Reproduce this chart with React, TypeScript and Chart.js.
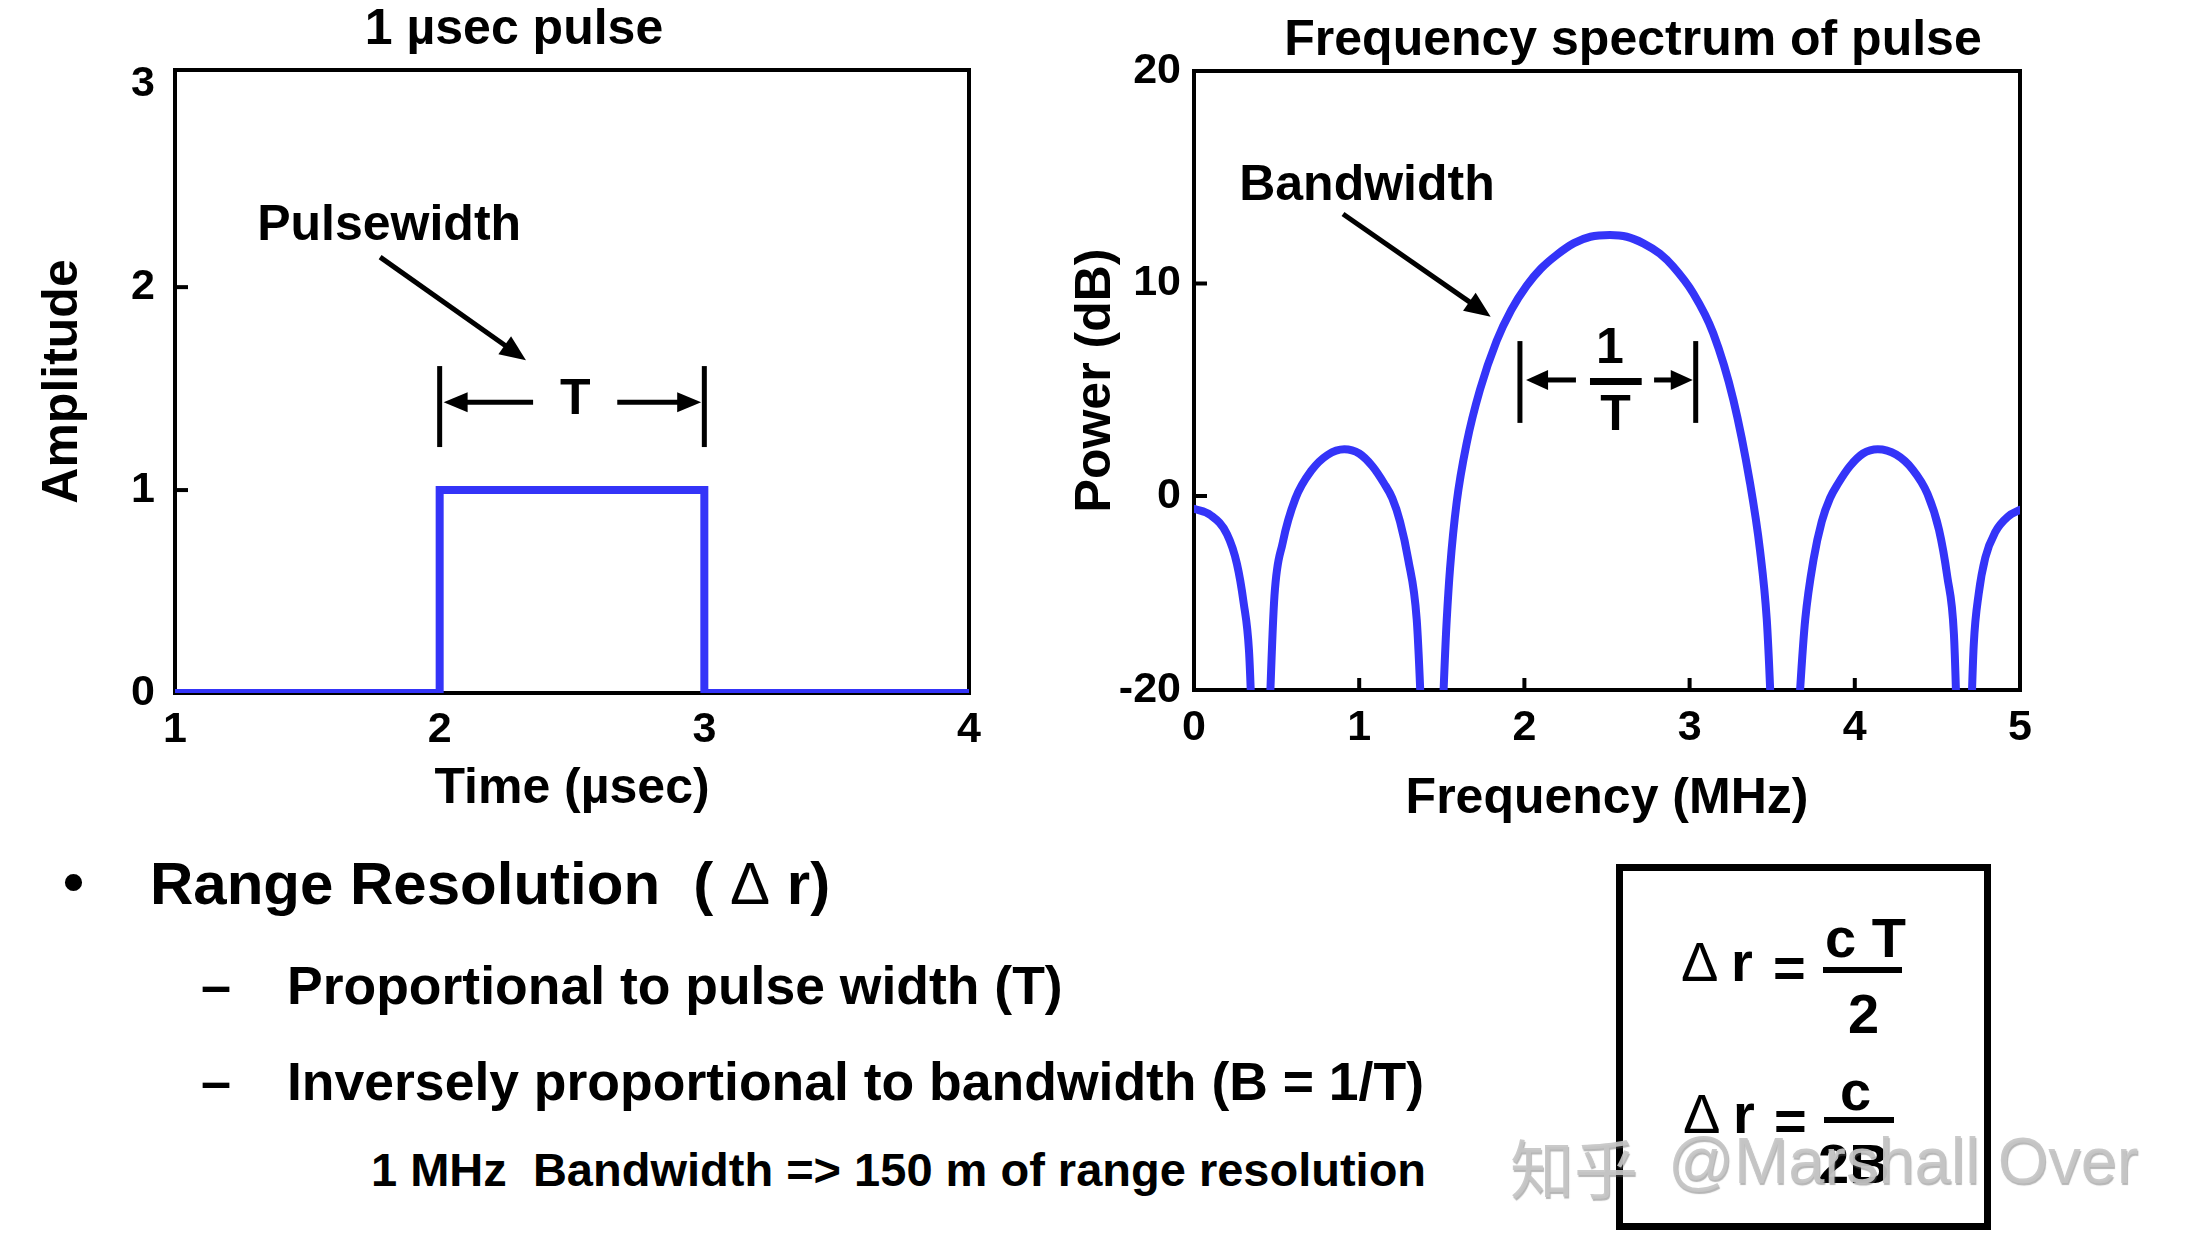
import React, { useEffect, useRef } from "react";
import { Chart, registerables } from "chart.js";

Chart.register(...registerables);

const FONT = '"Liberation Sans", Arial, Helvetica, sans-serif';
const BLUE = "#3434F8";
const BLACK = "#000000";

// ---------------- Left chart data: 1 µsec pulse ----------------
const PULSE_TITLE = "1 µsec pulse";
const TIME_LABEL = "Time (µsec)";
const AMPLITUDE_LABEL = "Amplitude";
const TIME_US = [1, 2, 2, 3, 3, 4];
const AMPLITUDE = [0, 0, 1, 1, 0, 0];
const TIME_TICKS = [1, 2, 3, 4];
const AMPLITUDE_TICKS = [0, 1, 2, 3];
const AMPLITUDE_AXIS_MAX = 3.07;

// ---------------- Right chart data: spectrum ----------------
const SPECTRUM_TITLE = "Frequency spectrum of pulse";
const FREQ_LABEL = "Frequency (MHz)";
const POWER_LABEL = "Power (dB)";
const FREQ_MHZ = [
  0, 0.1, 0.2, 0.26, 0.3, 0.333, 0.4,
  0.487, 0.537, 0.614, 0.711, 0.808, 0.91, 1.0, 1.08, 1.15, 1.2, 1.247, 1.297, 1.348, 1.44,
  1.53, 1.55, 1.59, 1.651, 1.731, 1.832, 1.92, 2.014, 2.1, 2.196, 2.3, 2.4, 2.518,
  2.62, 2.72, 2.82, 2.901, 3.022, 3.143, 3.265, 3.366, 3.426, 3.467, 3.56,
  3.7, 3.75, 3.8, 3.85, 3.9, 3.97, 4.05, 4.139, 4.25, 4.35, 4.44, 4.51, 4.56, 4.6, 4.66,
  4.72, 4.75, 4.79, 4.85, 4.93, 5.0,
];
const POWER_DB = [
  -0.6, -0.9, -1.8, -3.2, -5.0, -7.3, -20,
  -4.7, -2.2, -0.12, 1.2, 1.93, 2.2, 2.0, 1.4, 0.6, -0.1, -1.2, -3.0, -5.8, -20,
  -5.8, -3.4, -0.3, 2.5, 5.0, 7.3, 8.75, 9.9, 10.7, 11.35, 11.9, 12.2, 12.28,
  12.2, 11.89, 11.4, 10.79, 9.54, 7.66, 4.52, 0.6, -2.54, -5.8, -20,
  -5.8, -3.0, -1.2, -0.1, 0.6, 1.4, 2.0, 2.2, 1.95, 1.25, 0.1, -1.6, -3.8, -6.5, -20,
  -7.0, -4.6, -2.9, -1.7, -0.95, -0.65,
];
const FREQ_TICKS = [0, 1, 2, 3, 4, 5];
const POWER_TICKS = [0, 10, 20];
const POWER_FLOOR_LABEL = "-20"; // label printed at the clipped floor of the plot
const POWER_AXIS_MIN = -9.13; // where that floor sits on the drawn dB scale

// ---------------- Slide text ----------------
const BULLET_HEAD = "Range Resolution  ( ";
const BULLET_DELTA = "\u0394";
const BULLET_TAIL = " r)";
const SUB_1 = "Proportional to pulse width (T)";
const SUB_2 = "Inversely proportional to bandwidth (B = 1/T)";
const NOTE = "1 MHz  Bandwidth => 150 m of range resolution";
const WATERMARK_CJK = "知乎";
const WATERMARK_LATIN = "@Marshall Over";

type Annot =
  | { kind: "text"; text: string; x: number; y: number; size: number }
  | { kind: "line"; x1: number; y1: number; x2: number; y2: number; lw: number }
  | { kind: "arrow"; x1: number; y1: number; x2: number; y2: number; lw: number; head: number; half: number };

const PULSE_ANNOTS: Annot[] = [
  { kind: "text", text: "Pulsewidth", x: 1.809, y: 2.3, size: 50 },
  { kind: "arrow", x1: 1.775, y1: 2.148, x2: 2.326, y2: 1.64, lw: 5, head: 26, half: 11 },
  { kind: "line", x1: 2, y1: 1.212, x2: 2, y2: 1.611, lw: 5 },
  { kind: "line", x1: 3, y1: 1.212, x2: 3, y2: 1.611, lw: 5 },
  { kind: "arrow", x1: 2.353, y1: 1.433, x2: 2.015, y2: 1.433, lw: 5, head: 24, half: 10 },
  { kind: "arrow", x1: 2.671, y1: 1.433, x2: 2.988, y2: 1.433, lw: 5, head: 24, half: 10 },
  { kind: "text", text: "T", x: 2.512, y: 1.443, size: 50 },
];

const SPECTRUM_ANNOTS: Annot[] = [
  { kind: "text", text: "Bandwidth", x: 1.047, y: 14.59, size: 50 },
  { kind: "arrow", x1: 0.902, y1: 13.27, x2: 1.796, y2: 8.44, lw: 5, head: 26, half: 11 },
  { kind: "line", x1: 1.973, y1: 3.44, x2: 1.973, y2: 7.29, lw: 5 },
  { kind: "line", x1: 3.037, y1: 3.44, x2: 3.037, y2: 7.29, lw: 5 },
  { kind: "arrow", x1: 2.312, y1: 5.46, x2: 2.01, y2: 5.46, lw: 5, head: 22, half: 10 },
  { kind: "arrow", x1: 2.785, y1: 5.46, x2: 3.019, y2: 5.46, lw: 5, head: 22, half: 10 },
  { kind: "text", text: "1", x: 2.518, y: 6.93, size: 50 },
  { kind: "line", x1: 2.397, y1: 5.39, x2: 2.71, y2: 5.39, lw: 7 },
  { kind: "text", text: "T", x: 2.551, y: 3.74, size: 50 },
];

function drawArrow(ctx: CanvasRenderingContext2D, x1: number, y1: number, x2: number, y2: number, lw: number, head: number, half: number) {
  const ang = Math.atan2(y2 - y1, x2 - x1);
  const bx = x2 - head * Math.cos(ang);
  const by = y2 - head * Math.sin(ang);
  ctx.lineWidth = lw;
  ctx.lineCap = "butt";
  ctx.beginPath();
  ctx.moveTo(x1, y1);
  ctx.lineTo(bx + Math.cos(ang), by + Math.sin(ang));
  ctx.stroke();
  ctx.beginPath();
  ctx.moveTo(x2, y2);
  ctx.lineTo(bx + half * Math.sin(ang), by - half * Math.cos(ang));
  ctx.lineTo(bx - half * Math.sin(ang), by + half * Math.cos(ang));
  ctx.closePath();
  ctx.fill();
}

function innerTicks(list: number[]) {
  return list.slice(1, list.length - 1);
}

function makeDecor(opts: {
  id: string;
  title: string;
  titleX: number;
  titleY: number;
  annots: Annot[];
  yTicks: number[];
  xTicks: number[];
  yTickLen: number;
  xTickLen: number;
}) {
  return {
    id: opts.id,
    beforeDatasetsDraw(chart: any) {
      const { ctx, chartArea: a, scales } = chart;
      ctx.save();
      ctx.strokeStyle = BLACK;
      ctx.lineWidth = 4;
      ctx.strokeRect(a.left, a.top, a.right - a.left, a.bottom - a.top);
      const ys = scales.y;
      for (const v of opts.yTicks) {
        const py = ys.getPixelForValue(v);
        ctx.beginPath();
        ctx.moveTo(a.left, py);
        ctx.lineTo(a.left + opts.yTickLen, py);
        ctx.stroke();
      }
      const xs = scales.x;
      for (const v of opts.xTicks) {
        const px = xs.getPixelForValue(v);
        ctx.beginPath();
        ctx.moveTo(px, a.bottom);
        ctx.lineTo(px, a.bottom - opts.xTickLen);
        ctx.stroke();
      }
      ctx.restore();
    },
    afterDraw(chart: any) {
      const { ctx, scales } = chart;
      const xs = scales.x;
      const ys = scales.y;
      ctx.save();
      ctx.fillStyle = BLACK;
      ctx.strokeStyle = BLACK;
      ctx.textAlign = "center";
      ctx.textBaseline = "middle";
      ctx.font = `bold 50px ${FONT}`;
      ctx.fillText(opts.title, opts.titleX, opts.titleY);
      for (const an of opts.annots) {
        if (an.kind === "text") {
          ctx.font = `bold ${an.size}px ${FONT}`;
          ctx.fillText(an.text, xs.getPixelForValue(an.x), ys.getPixelForValue(an.y));
        } else if (an.kind === "line") {
          ctx.lineWidth = an.lw;
          ctx.lineCap = "butt";
          ctx.beginPath();
          ctx.moveTo(xs.getPixelForValue(an.x1), ys.getPixelForValue(an.y1));
          ctx.lineTo(xs.getPixelForValue(an.x2), ys.getPixelForValue(an.y2));
          ctx.stroke();
        } else {
          drawArrow(
            ctx,
            xs.getPixelForValue(an.x1),
            ys.getPixelForValue(an.y1),
            xs.getPixelForValue(an.x2),
            ys.getPixelForValue(an.y2),
            an.lw,
            an.head,
            an.half
          );
        }
      }
      ctx.restore();
    },
  };
}

const tickFont = { family: FONT, size: 43, weight: "bold" as const };
const titleFont = { family: FONT, size: 50, weight: "bold" as const };

function makePulseChart(canvas: HTMLCanvasElement) {
  return new Chart(canvas, {
    type: "line",
    data: {
      datasets: [
        {
          data: TIME_US.map((t, i) => ({ x: t, y: AMPLITUDE[i] })),
          borderColor: BLUE,
          borderWidth: 8,
          pointRadius: 0,
          tension: 0,
          fill: false,
          borderJoinStyle: "miter",
          borderCapStyle: "butt",
        },
      ],
    },
    options: {
      responsive: false,
      animation: false,
      events: [],
      layout: { padding: { top: 70, right: 61, left: 0, bottom: 0 } },
      plugins: { legend: { display: false }, tooltip: { enabled: false }, title: { display: false } },
      scales: {
        x: {
          type: "linear",
          min: 1,
          max: 4,
          afterBuildTicks: (s: any) => {
            s.ticks = TIME_TICKS.map((v) => ({ value: v }));
          },
          afterFit: (s: any) => {
            s.height = 167;
          },
          grid: { display: false, drawTicks: false },
          border: { display: false },
          ticks: { color: BLACK, font: tickFont, padding: 11, maxRotation: 0, autoSkip: false },
          title: { display: true, text: TIME_LABEL, color: BLACK, font: titleFont, padding: { top: 0, bottom: 41 } },
        },
        y: {
          type: "linear",
          min: 0,
          max: AMPLITUDE_AXIS_MAX,
          afterBuildTicks: (s: any) => {
            s.ticks = AMPLITUDE_TICKS.map((v) => ({ value: v }));
          },
          afterFit: (s: any) => {
            s.width = 175;
          },
          grid: { display: false, drawTicks: false },
          border: { display: false },
          ticks: { color: BLACK, font: tickFont, padding: 20, autoSkip: false },
          title: { display: true, text: AMPLITUDE_LABEL, color: BLACK, font: titleFont, padding: { top: 33, bottom: 0 } },
        },
      },
    },
    plugins: [
      makeDecor({
        id: "pulseDecor",
        title: PULSE_TITLE,
        titleX: 514,
        titleY: 30,
        annots: PULSE_ANNOTS,
        yTicks: innerTicks(AMPLITUDE_TICKS),
        xTicks: [],
        yTickLen: 13,
        xTickLen: 0,
      }),
    ],
  } as any);
}

function makeSpectrumChart(canvas: HTMLCanvasElement) {
  return new Chart(canvas, {
    type: "line",
    data: {
      datasets: [
        {
          data: FREQ_MHZ.map((f, i) => ({ x: f, y: POWER_DB[i] })),
          borderColor: BLUE,
          borderWidth: 8,
          pointRadius: 0,
          cubicInterpolationMode: "monotone",
          fill: false,
          borderCapStyle: "round",
          borderJoinStyle: "round",
        },
      ],
    },
    options: {
      responsive: false,
      animation: false,
      events: [],
      layout: { padding: { top: 71, right: 170, left: 0, bottom: 0 } },
      plugins: { legend: { display: false }, tooltip: { enabled: false }, title: { display: false } },
      scales: {
        x: {
          type: "linear",
          min: 0,
          max: 5,
          afterBuildTicks: (s: any) => {
            s.ticks = FREQ_TICKS.map((v) => ({ value: v }));
          },
          afterFit: (s: any) => {
            s.height = 170;
          },
          grid: { display: false, drawTicks: false },
          border: { display: false },
          ticks: { color: BLACK, font: tickFont, padding: 12, maxRotation: 0, autoSkip: false },
          title: { display: true, text: FREQ_LABEL, color: BLACK, font: titleFont, padding: { top: 0, bottom: 31 } },
        },
        y: {
          type: "linear",
          min: POWER_AXIS_MIN,
          max: 20,
          afterBuildTicks: (s: any) => {
            s.ticks = [{ value: POWER_AXIS_MIN }, ...POWER_TICKS.map((v) => ({ value: v }))];
          },
          afterFit: (s: any) => {
            s.width = 164;
          },
          grid: { display: false, drawTicks: false },
          border: { display: false },
          ticks: {
            color: BLACK,
            font: tickFont,
            padding: 13,
            autoSkip: false,
            callback: (v: any) => (v === POWER_AXIS_MIN ? POWER_FLOOR_LABEL : String(v)),
          },
          title: { display: true, text: POWER_LABEL, color: BLACK, font: titleFont, padding: { top: 36, bottom: 0 } },
        },
      },
    },
    plugins: [
      makeDecor({
        id: "specDecor",
        title: SPECTRUM_TITLE,
        titleX: 603,
        titleY: 41,
        annots: SPECTRUM_ANNOTS,
        yTicks: POWER_TICKS.slice(0, POWER_TICKS.length - 1),
        xTicks: innerTicks(FREQ_TICKS),
        yTickLen: 13,
        xTickLen: 12,
      }),
    ],
  } as any);
}

// Absolutely placed text: x = left edge, b = baseline
function Txt(props: { x: number; b: number; size: number; children: React.ReactNode; style?: React.CSSProperties }) {
  const { x, b, size } = props;
  return (
    <div
      style={{
        position: "absolute",
        left: x,
        top: b - 0.8465 * size,
        fontSize: size,
        lineHeight: `${size}px`,
        whiteSpace: "pre",
        fontFamily: FONT,
        fontWeight: "bold",
        color: BLACK,
        ...(props.style || {}),
      }}
    >
      {props.children}
    </div>
  );
}

function Bar(props: { x: number; y: number; w: number; h: number }) {
  return <div style={{ position: "absolute", left: props.x, top: props.y, width: props.w, height: props.h, background: BLACK }} />;
}

const thin: React.CSSProperties = { fontWeight: "normal" };

export default function App() {
  const leftRef = useRef<HTMLCanvasElement>(null);
  const rightRef = useRef<HTMLCanvasElement>(null);

  useEffect(() => {
    const c1 = makePulseChart(leftRef.current!);
    const c2 = makeSpectrumChart(rightRef.current!);
    return () => {
      c1.destroy();
      c2.destroy();
    };
  }, []);

  const F = 56;
  const wm: React.CSSProperties = {
    fontWeight: "normal",
    color: "rgba(198,198,198,0.92)",
    textShadow: "1px 2px 1px rgba(90,90,90,0.45)",
    fontFamily: '"Noto Sans CJK SC", "Liberation Sans", sans-serif',
  };
  const wmLatin: React.CSSProperties = { ...wm, fontFamily: '"Liberation Sans", sans-serif' };
  return (
    <div style={{ position: "absolute", left: 0, top: 0, width: 2190, height: 1250, overflow: "hidden", background: "#ffffff" }}>
      <canvas ref={leftRef} width={1030} height={860} style={{ position: "absolute", left: 0, top: 0 }} />
      <canvas ref={rightRef} width={1160} height={860} style={{ position: "absolute", left: 1030, top: 0 }} />

      <Txt x={63} b={903} size={60}>{"\u2022"}</Txt>
      <Txt x={150} b={905} size={60}>
        {BULLET_HEAD}
        <span style={thin}>{BULLET_DELTA}</span>
        {BULLET_TAIL}
      </Txt>
      <Txt x={201} b={1004} size={54}>{"\u2013"}</Txt>
      <Txt x={287} b={1004} size={53.5}>{SUB_1}</Txt>
      <Txt x={201} b={1100} size={54}>{"\u2013"}</Txt>
      <Txt x={287} b={1100} size={53.5}>{SUB_2}</Txt>
      <Txt x={371} b={1186} size={47}>{NOTE}</Txt>

      {/* formula box */}
      <div style={{ position: "absolute", left: 1616, top: 864, width: 375, height: 366, border: "7px solid #000", boxSizing: "border-box" }} />
      <Txt x={1681} b={981} size={F} style={thin}>{"\u0394"}</Txt>
      <Txt x={1731} b={981} size={F}>{"r"}</Txt>
      <Txt x={1773} b={987} size={F}>{"="}</Txt>
      <Txt x={1825} b={957} size={F}>{"c T"}</Txt>
      <Bar x={1823} y={967} w={79} h={6} />
      <Txt x={1848} b={1033} size={F}>{"2"}</Txt>

      <Txt x={1683} b={1133} size={F} style={thin}>{"\u0394"}</Txt>
      <Txt x={1733} b={1133} size={F}>{"r"}</Txt>
      <Txt x={1774} b={1140} size={F}>{"="}</Txt>
      <Txt x={1840} b={1110} size={F}>{"c"}</Txt>
      <Bar x={1824} y={1117} w={70} h={6} />
      <Txt x={1818} b={1183} size={F}>{"2B"}</Txt>

      <Txt x={1510} b={1187} size={64} style={wm}>{WATERMARK_CJK}</Txt>
      <Txt x={1668} b={1183} size={65} style={wmLatin}>{WATERMARK_LATIN}</Txt>
    </div>
  );
}
